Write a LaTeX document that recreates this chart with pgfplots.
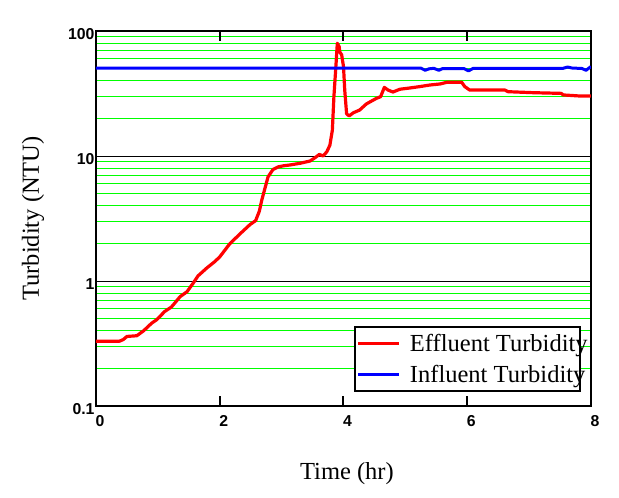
\documentclass[border=0pt]{standalone}
\usepackage{fontspec}
\setmainfont{Liberation Serif}
\setsansfont{Liberation Sans}
\newfontfamily\tickfont{Liberation Sans}
\usepackage{pgfplots}
\pgfplotsset{compat=1.18}
\definecolor{gridgreen}{RGB}{0,255,0}
\newcommand{\tklab}[1]{\mbox{\tickfont\bfseries\fontsize{15.8}{18}\selectfont #1}}
\begin{document}
\begin{tikzpicture}
\begin{axis}[
  scale only axis, width=495pt, height=375pt,
  at={(0,0)}, anchor=south west,
  ymode=log, xmin=0, xmax=8, ymin=0.1, ymax=100,
  xtick={0,2,4,6,8}, xticklabels={\tklab{0},\tklab{2},\tklab{4},\tklab{6},\tklab{8}},
  ytick={0.1,1,10,100}, yticklabels={\tklab{0.1},\tklab{1},\tklab{10},\tklab{100}},
  xticklabel style={font=\fontsize{15}{18}\selectfont, xshift=4pt, yshift=-6pt},
  yticklabel style={font=\fontsize{15}{18}\selectfont, xshift=2pt, yshift=-3pt},
  ymajorgrids, yminorgrids,
  major grid style={black, line width=0.9pt},
  minor grid style={color=gridgreen, line width=0.9pt},
  axis line style={line width=2.3pt},
  tick align=inside, major tick length=10pt, minor tick length=0pt,
  xtick style={line width=2pt, black},
  ytick style={draw=none},
  xlabel={Time (hr)}, ylabel={Turbidity (NTU)},
  every axis x label/.style={at={(axis description cs:0.507,-0.181)}, anchor=center, font=\fontsize{24.5}{29}\selectfont},
  every axis y label/.style={at={(axis description cs:-0.1273,0.5)}, rotate=90, anchor=center, font=\fontsize{24.5}{29}\selectfont},
  legend cell align=left,
  legend image code/.code={\draw[#1, line width=3pt] (0pt,0pt) -- (41pt,0pt);},
  legend style={at={(axis description cs:0.5212,0.0373)}, anchor=south west,
    draw=black, line width=2pt, fill=white, inner xsep=2pt, inner ysep=3pt,
    row sep=4.3pt, column sep=9pt,
    font=\fontsize{24.5}{29}\selectfont,
    nodes={inner sep=0pt, text height=20.7pt, text depth=6pt}},
]
\addplot[color=red, line width=3.2pt, line join=round] coordinates {
(0,0.33) (0.38,0.33) (0.44,0.34) (0.5,0.36) (0.66,0.365) (0.77,0.40) (0.9,0.46) (0.98,0.49)
(1.11,0.57) (1.22,0.62) (1.36,0.75) (1.47,0.82) (1.57,0.96) (1.65,1.1) (1.79,1.27) (1.92,1.43)
(2.0,1.56) (2.16,1.98) (2.33,2.39) (2.49,2.83) (2.58,3.04) (2.64,3.62) (2.68,4.45) (2.73,5.5)
(2.78,6.8) (2.86,7.8) (2.95,8.2) (3.03,8.35) (3.13,8.47) (3.30,8.75) (3.46,9.12) (3.54,9.69)
(3.61,10.3) (3.67,10.0) (3.73,10.8) (3.78,12.2) (3.82,16.1) (3.845,29.8) (3.88,55) (3.90,79.8)
(3.93,75) (3.94,68) (3.97,64.6) (4.0,52) (4.02,33.7) (4.05,21.8) (4.09,20.9) (4.16,22.2)
(4.26,23.3) (4.37,26.1) (4.53,28.9) (4.60,29.8) (4.66,35.4) (4.72,33.7) (4.80,32.5) (4.91,34.2)
(5.07,35) (5.23,35.9) (5.40,37) (5.56,37.7) (5.67,38.9) (5.91,38.9) (5.96,35.9) (6.04,33.7)
(6.61,33.7) (6.66,32.7) (7.07,32.1) (7.52,31.7) (7.55,30.8) (7.82,30.2) (8.0,30.2)
};
\addlegendentry{\makebox[168pt][l]{Effluent Turbidity}}
\addplot[color=blue, line width=3pt, line join=round] coordinates {
(0,50.5) (5.25,50.5) (5.32,48.5) (5.38,49.8) (5.46,50.3) (5.54,48.5) (5.6,50) (5.95,50)
(6.02,48) (6.1,50.3) (7.55,50.3) (7.62,51.5) (7.7,50.5) (7.85,50.2) (7.92,48.5) (8.0,52)
};
\addlegendentry{\makebox[168pt][l]{Influent Turbidity}}
\end{axis}
\pgfresetboundingbox
\path (-96pt,-92pt) rectangle (523pt,406pt);
\end{tikzpicture}
\end{document}
